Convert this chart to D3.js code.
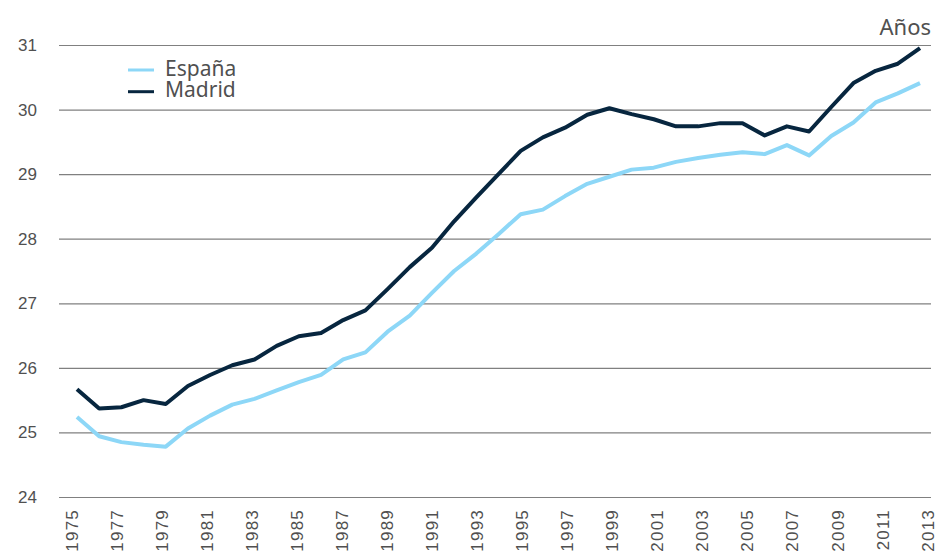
<!DOCTYPE html>
<html>
<head>
<meta charset="utf-8">
<script src="https://cdn.jsdelivr.net/npm/d3@7"></script>
<style>
  html, body { margin: 0; padding: 0; background: #fff; }
  svg { display: block; font-family: "Noto Sans", "Open Sans", sans-serif; }
</style>
</head>
<body>
<svg id="chart" width="937" height="554"></svg>
<script>
// Edad media a la maternidad, España y Madrid, 1975-2013
const years = d3.range(1975, 2014);
const espana = [25.24, 24.94, 24.85, 24.81, 24.78, 25.06, 25.26, 25.43, 25.52, 25.65,
                25.78, 25.89, 26.13, 26.24, 26.56, 26.81, 27.16, 27.50, 27.77, 28.07,
                28.38, 28.45, 28.66, 28.85, 28.96, 29.07, 29.10, 29.19, 29.25, 29.30,
                29.34, 29.31, 29.45, 29.29, 29.59, 29.80, 30.11, 30.25, 30.41];
const madrid = [25.67, 25.37, 25.39, 25.50, 25.44, 25.72, 25.89, 26.04, 26.13, 26.34,
                26.49, 26.54, 26.74, 26.89, 27.22, 27.56, 27.86, 28.27, 28.64, 29.00,
                29.36, 29.57, 29.72, 29.92, 30.02, 29.93, 29.85, 29.74, 29.74, 29.79,
                29.79, 29.60, 29.74, 29.66, 30.04, 30.41, 30.60, 30.71, 30.95];
const yTicks = [24, 25, 26, 27, 28, 29, 30, 31];
const xTickYears = d3.range(1975, 2014, 2);
const seriesNames = ["España", "Madrid"];
const seriesColors = ["#8dd7f7", "#07263f"];
const unitLabel = "Años";

const svg = d3.select("#chart");
const plotLeft = 59, plotRight = 931, plotTop = 45, plotBottom = 497;

const y = d3.scaleLinear().domain([24, 31]).range([plotBottom, plotTop]);
const xLine = d3.scaleLinear().domain([1975, 2013]).range([77, 920]);
const xLabel = d3.scaleLinear().domain([1975, 2013]).range([71, 927]);

// horizontal grid + value labels
const yAxis = svg.append("g")
  .attr("transform", `translate(${plotLeft},0)`)
  .call(d3.axisLeft(y).tickValues(yTicks).tickSize(-(plotRight - plotLeft)).tickPadding(22).tickFormat(d3.format("d")));
yAxis.select(".domain").remove();
yAxis.selectAll(".tick line").attr("stroke", "#808080").attr("stroke-width", 1.2);
yAxis.selectAll(".tick text").attr("fill", "#505050").style("font-size", "17px");

// year labels, rotated
const xAxis = svg.append("g")
  .attr("transform", `translate(0,${plotBottom})`)
  .call(d3.axisBottom(xLabel).tickValues(xTickYears).tickSize(0).tickFormat(d3.format("d")));
xAxis.select(".domain").remove();
xAxis.selectAll(".tick text")
  .attr("fill", "#505050")
  .style("font-size", "17px")
  .style("letter-spacing", "1.2px")
  .style("text-anchor", "end")
  .attr("transform", "rotate(-90)")
  .attr("x", -12).attr("y", 0).attr("dy", "0.36em");

// series lines
const line = d3.line().x((d, i) => xLine(years[i])).y(d => y(d));
[espana, madrid].forEach((vals, k) => {
  svg.append("path")
    .datum(vals)
    .attr("fill", "none")
    .attr("stroke", seriesColors[k])
    .attr("stroke-width", 4)
    .attr("stroke-linejoin", "round")
    .attr("d", line);
});

// legend
const legend = svg.append("g");
seriesNames.forEach((name, k) => {
  const cy = 70 + k * 21.7;
  legend.append("line")
    .attr("x1", 128).attr("x2", 154).attr("y1", cy).attr("y2", cy)
    .attr("stroke", seriesColors[k]).attr("stroke-width", 3);
  legend.append("text")
    .attr("x", 165).attr("y", cy + 5.5)
    .attr("fill", "#505050")
    .style("font-size", "21px")
    .text(name);
});

// unit label
svg.append("text")
  .attr("x", 931).attr("y", 35)
  .attr("text-anchor", "end")
  .attr("fill", "#505050")
  .style("font-size", "22px")
  .text(unitLabel);
</script>
</body>
</html>
